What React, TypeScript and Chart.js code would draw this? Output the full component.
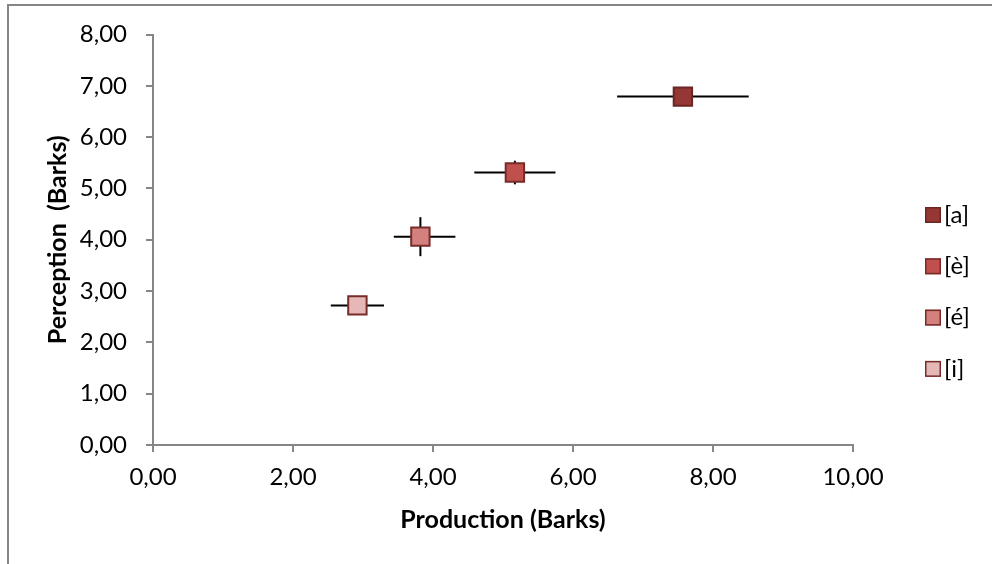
import React, { useEffect, useRef } from 'react';
import { Chart, registerables } from 'chart.js';

Chart.register(...registerables);

const vowelLabels = ['[a]', '[è]', '[é]', '[i]'];
const productionX = [7.57, 5.17, 3.82, 2.92];
const perceptionY = [6.79, 5.31, 4.06, 2.72];
const prodErrMinus = [0.94, 0.58, 0.38, 0.38];
const prodErrPlus = [0.94, 0.58, 0.5, 0.38];
const percErr = [0, 0.23, 0.38, 0];
const fillColors = ['#953735', '#C0504D', '#D4807E', '#E5B8B7'];
const edgeColors = ['#6A2624', '#772C2A', '#772C2A', '#772C2A'];

const xMin = 0, xMax = 10, xStep = 2;
const yMin = 0, yMax = 8, yStep = 1;
const xTitle = 'Production (Barks)';
const yTitle = 'Perception  (Barks)';

const FONT = 'Lato';
const fmt = (v: number) => v.toFixed(2).replace('.', ',');

const frameBorder = {
  id: 'frameBorder',
  beforeDraw(chart: any) {
    const ctx = chart.ctx;
    ctx.save();
    ctx.fillStyle = '#ffffff';
    ctx.fillRect(0, 0, chart.width, chart.height);
    ctx.strokeStyle = '#868686';
    ctx.lineWidth = 2;
    ctx.strokeRect(8, 5, chart.width + 100, chart.height + 100);
    ctx.restore();
  },
};

const errorBars = {
  id: 'errorBars',
  beforeDatasetsDraw(chart: any) {
    const ctx = chart.ctx;
    const xs = chart.scales.x;
    const ys = chart.scales.y;
    ctx.save();
    ctx.strokeStyle = '#000000';
    ctx.lineWidth = 2;
    for (let i = 0; i < productionX.length; i++) {
      const px = xs.getPixelForValue(productionX[i]);
      const py = ys.getPixelForValue(perceptionY[i]);
      ctx.beginPath();
      ctx.moveTo(xs.getPixelForValue(productionX[i] - prodErrMinus[i]), py);
      ctx.lineTo(xs.getPixelForValue(productionX[i] + prodErrPlus[i]), py);
      ctx.stroke();
      if (percErr[i] > 0) {
        ctx.beginPath();
        ctx.moveTo(px, ys.getPixelForValue(perceptionY[i] - percErr[i]));
        ctx.lineTo(px, ys.getPixelForValue(perceptionY[i] + percErr[i]));
        ctx.stroke();
      }
    }
    ctx.restore();
  },
};

const sideLegend = {
  id: 'sideLegend',
  afterDraw(chart: any) {
    const ctx = chart.ctx;
    ctx.save();
    ctx.font = `24px ${FONT}`;
    ctx.textBaseline = 'middle';
    ctx.textAlign = 'left';
    chart.data.datasets.forEach((ds: any, i: number) => {
      const cy = 215 + i * 51.3;
      ctx.fillStyle = ds.backgroundColor;
      ctx.fillRect(925, cy - 8, 16, 16);
      ctx.strokeStyle = ds.borderColor;
      ctx.lineWidth = 1.5;
      ctx.strokeRect(925.75, cy - 7.25, 14.5, 14.5);
      ctx.fillStyle = '#000000';
      ctx.fillText(ds.label, 944, cy);
    });
    ctx.restore();
  },
};

export default function App() {
  const ref = useRef<HTMLCanvasElement>(null);
  useEffect(() => {
    if (!ref.current) return;
    const chart = new Chart(ref.current, {
      type: 'scatter',
      data: {
        datasets: vowelLabels.map((label, i) => ({
          label,
          data: [{ x: productionX[i], y: perceptionY[i] }],
          backgroundColor: fillColors[i],
          borderColor: edgeColors[i],
          borderWidth: 2,
          pointStyle: 'rect',
          pointRadius: 13,
          pointHoverRadius: 13,
        })),
      },
      options: {
        responsive: false,
        animation: false,
        events: [],
        layout: { padding: { left: 0, top: 34.5, right: 139, bottom: 0 } },
        plugins: {
          legend: { display: false },
          tooltip: { enabled: false },
        },
        scales: {
          x: {
            type: 'linear',
            min: xMin,
            max: xMax,
            afterFit(s: any) { s.height = 119; },
            ticks: {
              stepSize: xStep,
              callback: (v: any) => fmt(Number(v)),
              font: { family: FONT, size: 24 },
              color: '#000000',
              padding: 11,
              maxRotation: 0,
            },
            grid: { drawOnChartArea: false, drawTicks: true, tickLength: 7, color: '#868686', lineWidth: 2 },
            border: { color: '#868686', width: 2 },
            title: {
              display: true,
              text: xTitle,
              font: { family: FONT, size: 25, weight: 'bold' },
              color: '#000000',
              padding: { top: 0, bottom: 29 },
            },
          },
          y: {
            type: 'linear',
            min: yMin,
            max: yMax,
            afterFit(s: any) { s.width = 153; },
            ticks: {
              stepSize: yStep,
              callback: (v: any) => fmt(Number(v)),
              font: { family: FONT, size: 24 },
              color: '#000000',
              padding: 19,
            },
            grid: { drawOnChartArea: false, drawTicks: true, tickLength: 7, color: '#868686', lineWidth: 2 },
            border: { color: '#868686', width: 2 },
            title: {
              display: true,
              text: yTitle,
              font: { family: FONT, size: 25, weight: 'bold' },
              color: '#000000',
              padding: { top: 43, bottom: 0 },
            },
          },
        },
      },
      plugins: [frameBorder, errorBars, sideLegend],
    });
    return () => chart.destroy();
  }, []);
  return (
    <div style={{ position: 'absolute', left: 0, top: 0, width: 992, height: 564 }}>
      <canvas ref={ref} width={992} height={564} style={{ width: 992, height: 564, display: 'block' }} />
    </div>
  );
}
